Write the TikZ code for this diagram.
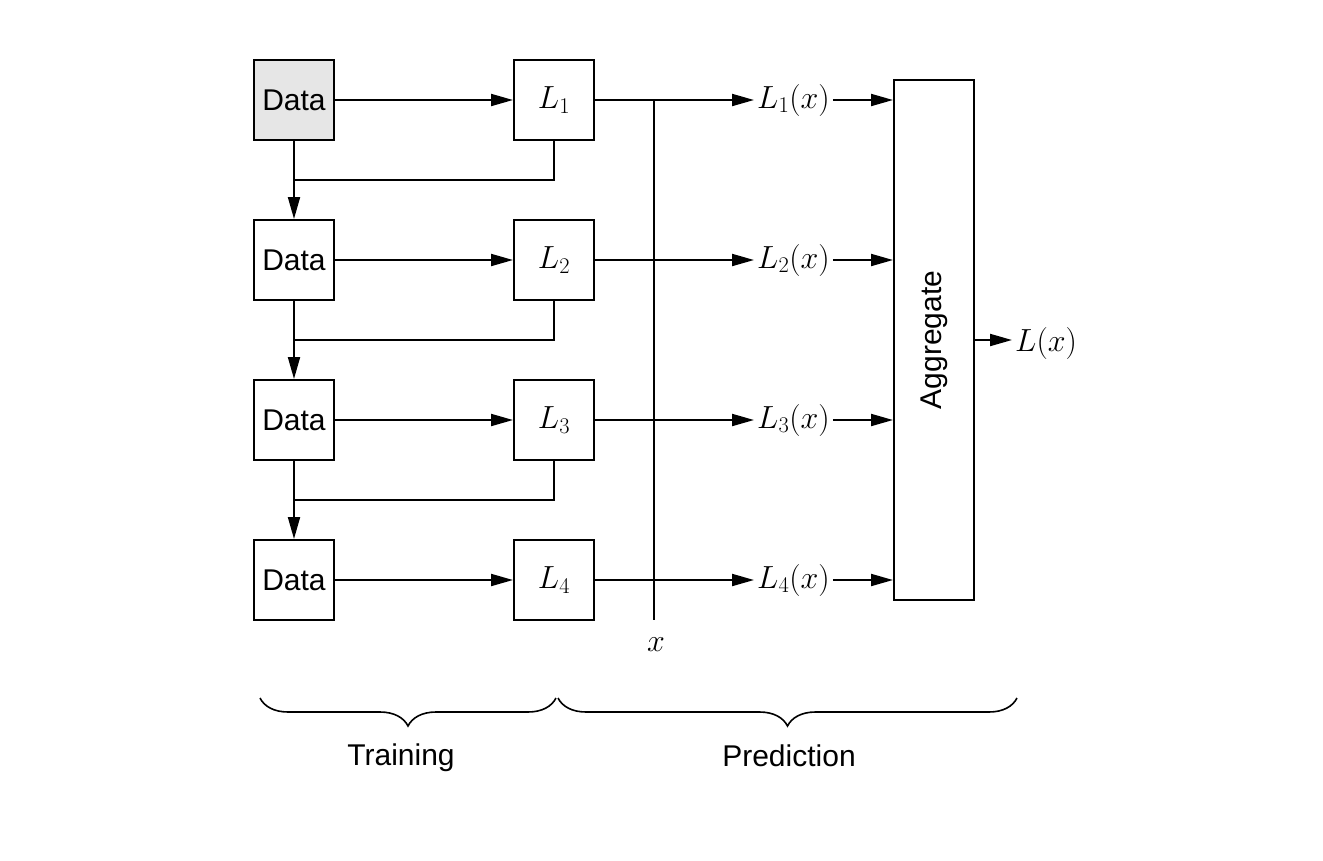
\RequirePackage{fix-cm}
\documentclass[tikz,border=0pt]{standalone}
\usepackage{fontspec}
\setmainfont{Liberation Sans}
\usepackage{graphicx}
\usetikzlibrary{arrows.meta,decorations.pathreplacing}
\definecolor{datagray}{HTML}{E6E6E6}
\begin{document}
\begin{tikzpicture}[x=1pt,y=-1pt,
  every node/.style={font=\fontsize{30}{36}\selectfont},
  mth/.style={font=\fontsize{32}{38}\selectfont},
  box/.style={draw, line width=2pt, minimum size=80pt, inner sep=0pt},
  lbl/.style={mth, inner sep=3pt},
  conn/.style={line width=2pt},
  arr/.style={line width=2pt, -{Triangle[length=22pt,width=12pt]}},
  brc/.style={line width=1.6pt, decorate, decoration={brace, mirror, amplitude=28pt}}]
\useasboundingbox (0,0) rectangle (1323,860);
\node[box, fill=datagray] (d1) at (294,100) {Data};
\node[box] (d2) at (294,260) {Data};
\node[box] (d3) at (294,420) {Data};
\node[box] (d4) at (294,580) {Data};
\node[box, mth] (l1) at (554,100) {$L_1$};
\node[box, mth] (l2) at (554,260) {$L_2$};
\node[box, mth] (l3) at (554,420) {$L_3$};
\node[box, mth] (l4) at (554,580) {$L_4$};
\node[lbl, anchor=west] (p1) at (754,100) {$L_1(x)$};
\node[lbl, anchor=west] (p2) at (754,260) {$L_2(x)$};
\node[lbl, anchor=west] (p3) at (754,420) {$L_3(x)$};
\node[lbl, anchor=west] (p4) at (754,580) {$L_4(x)$};
\node[draw, line width=2pt, minimum width=80pt, minimum height=520pt, inner sep=0pt] (agg) at (934,340) {\rotatebox{90}{Aggregate}};
\node[lbl, anchor=west] (out) at (1012,343) {$L(x)$};
\coordinate (xt) at (654,100);
\coordinate (xb) at (654,620);
\node[mth] (xl) at (656,645) {$x$};
\coordinate (j1) at (294,180);
\coordinate (j2) at (294,340);
\coordinate (j3) at (294,500);
% training flow
\foreach \i in {1,2,3,4}{
  \draw[arr] (d\i.east) -- (l\i.west);
  \draw[arr] (l\i.east) -- (p\i.west);
  \draw[arr] (p\i.east) -- (agg.west |- p\i.east);
}
\draw[arr] (d1.south) -- (d2.north);
\draw[arr] (d2.south) -- (d3.north);
\draw[arr] (d3.south) -- (d4.north);
\draw[conn] (l1.south) |- (j1);
\draw[conn] (l2.south) |- (j2);
\draw[conn] (l3.south) |- (j3);
\draw[conn] (xt) -- (xb);
\draw[arr] (agg.east) -- (out.west |- agg.east);
% braces
\coordinate (b1) at (260,698);
\coordinate (b2) at (556,698);
\coordinate (b3) at (558,698);
\coordinate (b4) at (1017,698);
\draw[brc] (b1) -- (b2);
\draw[brc] (b3) -- (b4);
\node (tr) at (401,758) {Training};
\node (pr) at (789,756) {Prediction};
\end{tikzpicture}
\end{document}
